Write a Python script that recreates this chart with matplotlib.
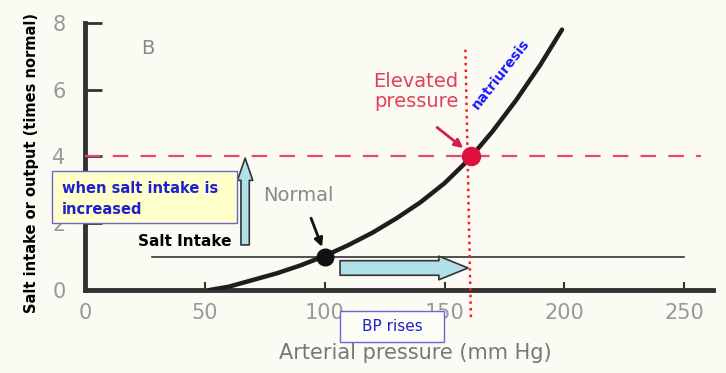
import matplotlib.pyplot as plt
from matplotlib.patches import Rectangle

# krzywa ciśnienie -> wydalanie soli
pressure = [52, 60, 70, 80, 90, 100, 110, 120, 130, 140, 150, 160, 170, 180, 190, 199]
output = [0.0, 0.1, 0.3, 0.5, 0.74, 1.02, 1.35, 1.72, 2.15, 2.63, 3.2, 3.9, 4.75, 5.7, 6.75, 7.8]

salt_normal = 1
salt_high = 4
normal_pt = (100, 1)
elevated_pt = (161, 4)
x_ticks = [0, 50, 100, 150, 200, 250]
y_ticks = [0, 2, 4, 6, 8]

bg = '#fbfbf3'
fig = plt.figure(figsize=(7.26, 3.73), dpi=100, facecolor=bg)
ax = fig.add_axes([0.1171, 0.2225, 0.865, 0.716])
ax.set_facecolor(bg)

ax.plot(pressure, output, color='#1e1e1e', lw=3.2, solid_capstyle='round', zorder=4)
ax.plot([28, 250], [salt_normal, salt_normal], color='#333333', lw=1.2, zorder=3)
ax.plot([0, 257], [salt_high, salt_high], color='#e8486a', lw=1.6, dashes=(7, 5.5), zorder=3)
ax.plot([158.7, 161], [7.2, -0.85], color='#ff1a1a', lw=1.8, ls=':',
        clip_on=False, zorder=5)

ax.plot(*normal_pt, 'o', color='#111111', ms=12, zorder=6)
ax.plot(*elevated_pt, 'o', color='#e0103c', ms=13, zorder=6)

ax.set_xlim(0, 262)
ax.set_ylim(0, 8)
ax.set_xticks(x_ticks)
ax.set_yticks(y_ticks)
for s in ['top', 'right']:
    ax.spines[s].set_visible(False)
for s in ['left', 'bottom']:
    ax.spines[s].set_color('#333333')
    ax.spines[s].set_linewidth(3.5)
ax.tick_params(axis='y', direction='in', length=12, width=2, color='#333333',
               labelsize=15, labelcolor='#999999', pad=14)
ax.tick_params(axis='x', direction='in', length=6, width=1.5, color='#333333',
               labelsize=15, labelcolor='#999999', pad=9)

# napisy
ax.text(26, 7.23, 'B', fontsize=14, color='#888888', ha='center', va='center')
ax.text(155.7, 5.95, 'Elevated\npressure', fontsize=14, color='#e0405a',
        ha='right', va='center', linespacing=1.05)
ax.annotate('', xy=(157.8, 4.25), xytext=(146.9, 4.87),
            arrowprops=dict(arrowstyle='-|>,head_length=0.5,head_width=0.25',
                            color='#d02050', lw=2, shrinkA=0, shrinkB=0))
ax.text(173.6, 6.46, 'natriuresis', fontsize=10, color='#1a1aff', fontweight='bold',
        rotation=52, ha='center', va='center')

ax.add_patch(Rectangle((-13.8, 2.0), 77.2, 1.56, facecolor='#ffffcc', edgecolor='#6666cc',
                       lw=1, clip_on=False, zorder=7))
ax.text(-9.5, 2.72, 'when salt intake is\nincreased', fontsize=10.5, color='#2020cc',
        fontweight='bold', ha='left', va='center', linespacing=1.5, zorder=8, clip_on=False)

arrow_blue = dict(fc='#b0e0e8', ec='#333333', lw=1.2, shrinkA=0, shrinkB=0, mutation_scale=1)
ax.annotate('', xy=(66.8, 3.95), xytext=(66.8, 1.35), annotation_clip=False,
            arrowprops=dict(arrowstyle='simple,head_length=16,head_width=11,tail_width=6',
                            **arrow_blue), zorder=6)
ax.annotate('', xy=(159.8, 0.66), xytext=(106.4, 0.66), annotation_clip=False,
            arrowprops=dict(arrowstyle='simple,head_length=21,head_width=17,tail_width=10.5',
                            **arrow_blue), zorder=6)

ax.text(41.7, 1.46, 'Salt Intake', fontsize=11, color='black', fontweight='bold',
        ha='center', va='center')
ax.text(88.9, 2.84, 'Normal', fontsize=14, color='#888888', ha='center', va='center')
ax.annotate('', xy=(98.9, 1.29), xytext=(94.3, 2.15),
            arrowprops=dict(arrowstyle='-|>,head_length=0.5,head_width=0.25',
                            color='#111111', lw=2, shrinkA=0, shrinkB=0))

ax.add_patch(Rectangle((106.4, -1.55), 43.4, 0.92, facecolor='#fdfdf8', edgecolor='#6666dd',
                       lw=1, clip_on=False, zorder=7))
ax.text(128.1, -1.1, 'BP rises', fontsize=11, color='#2020cc', ha='center', va='center',
        zorder=8, clip_on=False)

fig.text(0.5716, 0.0536, 'Arterial pressure (mm Hg)', fontsize=15, color='#777777',
         ha='center', va='center')
fig.text(0.044, 0.563, 'Salt intake or output (times normal)', fontsize=10.5,
         fontweight='bold', color='black', rotation=90, ha='center', va='center')

fig.savefig('out.png', dpi=100, facecolor=bg)
